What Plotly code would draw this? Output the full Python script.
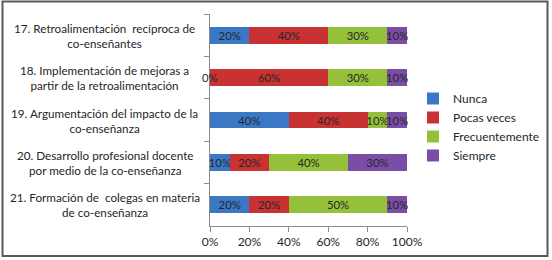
import plotly.graph_objects as go

categories = [
    "17. Retroalimentación  recíproca de<br>co-enseñantes",
    "18. Implementación de mejoras a<br>partir de la retroalimentación",
    "19. Argumentación del impacto de la<br>co-enseñanza",
    "20. Desarrollo profesional docente<br>por medio de la co-enseñanza",
    "21. Formación de  colegas en materia<br>de co-enseñanza",
]
keys = ["c17", "c18", "c19", "c20", "c21"]
series_names = ["Nunca", "Pocas veces", "Frecuentemente", "Siempre"]
nunca = [20, 0, 40, 10, 20]
pocas = [40, 60, 40, 20, 20]
frecuente = [30, 30, 10, 40, 50]
siempre = [10, 10, 10, 30, 10]
x_ticks = [0, 20, 40, 60, 80, 100]
x_tick_labels = ["0%", "20%", "40%", "60%", "80%", "100%"]
colors = ["#3a78c6", "#c83232", "#95c13a", "#7a4ea6"]

W, H = 552, 260
L, R, T, B = 210, 145, 14, 34
pw, ph = W - L - R, H - T - B

FONT = "Lato"
TXT = "#262626"
BAR_FS = 11.3


def px_x(px):
    return (px - L) / pw


def px_y(py):
    return (H - B - py) / ph


fig = go.Figure()
all_vals = [nunca, pocas, frecuente, siempre]
for name, vals, col in zip(series_names, all_vals, colors):
    fig.add_trace(go.Bar(
        y=keys, x=vals, name=name, orientation="h",
        marker=dict(color=col, line=dict(width=0)),
        text=[f"{v}%" for v in vals], textposition="inside",
        insidetextanchor="middle", textangle=0,
        textfont=dict(family=FONT, size=BAR_FS, color=TXT),
        legendgroup=name, cliponaxis=False,
    ))

annotations = []
# zero-valued segments still show their label at the segment position
cum = [0] * len(keys)
for vals in all_vals:
    for i, v in enumerate(vals):
        if v == 0:
            annotations.append(dict(x=cum[i], y=keys[i], xref="x", yref="y",
                                    text=f"{v}%", showarrow=False,
                                    font=dict(family=FONT, size=BAR_FS, color=TXT)))
        cum[i] += v

for k, c in zip(keys, categories):
    annotations.append(dict(x=px_x(105), y=k, xref="paper", yref="y",
                            text=c, showarrow=False, align="center",
                            xanchor="center", yanchor="middle",
                            font=dict(family=FONT, size=11.7, color=TXT)))

fig.update_layout(
    width=W, height=H,
    margin=dict(l=L, r=R, t=T, b=B, pad=0, autoexpand=False),
    paper_bgcolor="white", plot_bgcolor="white",
    barmode="stack", bargap=0.6,
    uniformtext=dict(minsize=BAR_FS, mode="show"),
    font=dict(family=FONT, size=12, color=TXT),
    showlegend=True,
    legend=dict(x=px_x(413), y=px_y(84), xanchor="left", yanchor="top",
                traceorder="normal", tracegroupgap=6,
                font=dict(family=FONT, size=12, color=TXT),
                bgcolor="rgba(0,0,0,0)", itemwidth=30),
    xaxis=dict(range=[0, 100], tickvals=x_ticks, ticktext=x_tick_labels,
               showgrid=False, zeroline=False, showline=True, linecolor="#8c8c8c",
               linewidth=1, ticks="outside", ticklen=5, tickcolor="#8c8c8c",
               tickfont=dict(family=FONT, size=12, color=TXT), fixedrange=True),
    yaxis=dict(categoryorder="array", categoryarray=keys, autorange="reversed",
               showgrid=False, zeroline=False, showline=True, linecolor="#8c8c8c",
               linewidth=1, ticks="outside", ticklen=5, tickcolor="#8c8c8c",
               tickson="boundaries", showticklabels=False, fixedrange=True),
    annotations=annotations,
    shapes=[dict(type="rect", xref="paper", yref="paper",
                 x0=px_x(2.5), x1=px_x(547.5), y0=px_y(256), y1=px_y(1.5),
                 line=dict(color="#5a5a5a", width=2), layer="above")],
)

fig.write_html(
    "out.html",
    config={"displayModeBar": False},
    post_script="document.body.style.margin='0';document.documentElement.style.overflow='hidden';",
)
